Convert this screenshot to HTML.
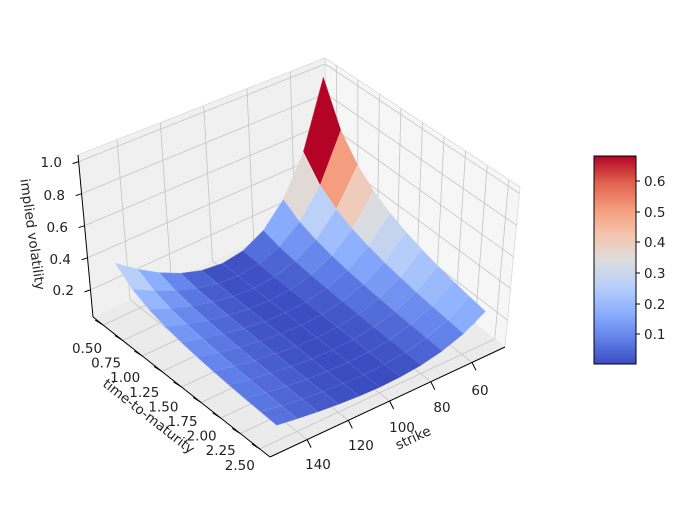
<!DOCTYPE html>
<html><head><meta charset="utf-8">
<style>
html,body{margin:0;padding:0;background:#fff;}
svg{display:block;font-family:"DejaVu Sans","Liberation Sans",sans-serif;}
</style></head>
<body>
<svg id="s" width="694" height="507" viewBox="0 0 694 507" xmlns="http://www.w3.org/2000/svg">
<rect width="694" height="507" fill="#fff"/>
<g id="g"></g>
<defs>
<linearGradient id="cb" x1="0" y1="1" x2="0" y2="0">
<stop offset="0" stop-color="rgb(59,76,192)"/>
<stop offset="0.125" stop-color="rgb(98,130,234)"/>
<stop offset="0.25" stop-color="rgb(141,176,254)"/>
<stop offset="0.375" stop-color="rgb(184,208,249)"/>
<stop offset="0.5" stop-color="rgb(221,221,221)"/>
<stop offset="0.625" stop-color="rgb(245,196,173)"/>
<stop offset="0.75" stop-color="rgb(244,154,123)"/>
<stop offset="0.875" stop-color="rgb(222,96,76)"/>
<stop offset="1" stop-color="rgb(180,4,38)"/>
</linearGradient>
</defs>
<rect x="594" y="156" width="42" height="208" fill="url(#cb)" stroke="#000" stroke-width="1"/>
<g font-size="13.5" fill="#222">
<line x1="636" y1="181" x2="640" y2="181" stroke="#000"/><text x="644" y="186">0.6</text>
<line x1="636" y1="212" x2="640" y2="212" stroke="#000"/><text x="644" y="217">0.5</text>
<line x1="636" y1="242" x2="640" y2="242" stroke="#000"/><text x="644" y="247">0.4</text>
<line x1="636" y1="273" x2="640" y2="273" stroke="#000"/><text x="644" y="278">0.3</text>
<line x1="636" y1="304" x2="640" y2="304" stroke="#000"/><text x="644" y="309">0.2</text>
<line x1="636" y1="334" x2="640" y2="334" stroke="#000"/><text x="644" y="339">0.1</text>
</g>
</svg>
<script>
(function(){
var A=[93,317],F=[270,457],R=[505,347],B=[328,207];
var At=[78,155],Rt=[520,187],Bt=[325,58],Ft=[At[0]+Rt[0]-Bt[0],At[1]+Rt[1]-Bt[1]];
function bil(p00,p10,p01,p11,u,v){return [p00[0]*(1-u)*(1-v)+p10[0]*u*(1-v)+p01[0]*(1-u)*v+p11[0]*u*v,
 p00[1]*(1-u)*(1-v)+p10[1]*u*(1-v)+p01[1]*(1-u)*v+p11[1]*u*v];}
function P(u,v,w){var b=bil(A,B,F,R,u,v),t=bil(At,Bt,Ft,Rt,u,v);return [b[0]*(1-w)+t[0]*w,b[1]*(1-w)+t[1]*w];}
function uK(K){return (158-K)/114;}
function vT(T){return (T-0.37)/2.26;}
function wZ(z){return (z-0.031)/1.01;}
var out=[];
function poly(pts,fill,stroke,sw){out.push('<polygon points="'+pts.map(function(p){return p[0].toFixed(1)+','+p[1].toFixed(1);}).join(' ')+'" fill="'+fill+'" stroke="'+(stroke||'none')+'" stroke-width="'+(sw||0)+'"/>');}
function line(p,q,c,w){out.push('<line x1="'+p[0].toFixed(1)+'" y1="'+p[1].toFixed(1)+'" x2="'+q[0].toFixed(1)+'" y2="'+q[1].toFixed(1)+'" stroke="'+c+'" stroke-width="'+w+'"/>');}
poly([A,B,Bt,At],'#f0f0f0');
poly([B,R,Rt,Bt],'#f6f6f6');
poly([A,B,R,F],'#ebebeb');
var gc='#c4c4c4',gw=0.8;
var Ks=[60,80,100,120,140],Ts=[0.5,0.75,1,1.25,1.5,1.75,2,2.25,2.5],Zs=[0.2,0.4,0.6,0.8,1.0];
Ks.forEach(function(K){var u=uK(K);line(P(u,0,0),P(u,0,1),gc,gw);line(P(u,0,0),P(u,1,0),gc,gw);});
Ts.forEach(function(T){var v=vT(T);line(P(1,v,0),P(1,v,1),gc,gw);line(P(0,v,0),P(1,v,0),gc,gw);});
Zs.forEach(function(z){var w=wZ(z);line(P(0,0,w),P(1,0,w),gc,gw);line(P(1,0,w),P(1,1,w),gc,gw);});
line(At,Bt,'#d8d8d8',0.8);line(Bt,Rt,'#d8d8d8',0.8);line(B,Bt,'#d8d8d8',0.8);line(Rt,R,'#d8d8d8',0.8);
var cm=[[59,76,192],[98,130,234],[141,176,254],[184,208,249],[221,221,221],[245,196,173],[244,154,123],[222,96,76],[180,4,38]];
function col(t){t=Math.max(0,Math.min(1,t));var s=t*8,i=Math.min(7,Math.floor(s)),f=s-i;var a=cm[i],b=cm[i+1];
 return 'rgb('+Math.round(a[0]+(b[0]-a[0])*f)+','+Math.round(a[1]+(b[1]-a[1])*f)+','+Math.round(a[2]+(b[2]-a[2])*f)+')';}
function Z(K,T){var l=Math.log(K/100);return 0.705*l*l/T+0.005;}
function sw(z){return 0.03+1.25*z+0.15*z*z;}
var NK=10,NT=10,facets=[],mn=1e9,mx=-1e9;
for(var i=0;i<NK;i++)for(var j=0;j<NT;j++){
 var K0=50+100*i/NK,K1=50+100*(i+1)/NK,T0=0.5+2*j/NT,T1=0.5+2*(j+1)/NT;
 var c=[[K0,T0],[K1,T0],[K1,T1],[K0,T1]];
 var zs=c.map(function(q){return Z(q[0],q[1]);});
 var zavg=(zs[0]+zs[1]+zs[2]+zs[3])/4;
 mn=Math.min(mn,zavg);mx=Math.max(mx,zavg);
 var pts=c.map(function(q,k){return P(uK(q[0]),vT(q[1]),sw(zs[k]));});
 var um=uK((K0+K1)/2),vm=vT((T0+T1)/2);
 facets.push({d:um-vm,pts:pts,z:zavg});
}
facets.forEach(function(f){f.c=col((f.z-mn)/(mx-mn));});
facets.sort(function(a,b){return b.d-a.d;});
facets.forEach(function(f){poly(f.pts,f.c,f.c,0.6);});
facets.forEach(function(f){out.push('<polyline points="'+[f.pts[0],f.pts[1],f.pts[2]].map(function(p){return p[0].toFixed(1)+','+p[1].toFixed(1);}).join(' ')+'" fill="none" stroke="rgba(255,255,255,0.18)" stroke-width="0.6"/>');});
line(A,F,'#000',1);line(F,R,'#000',1);line(A,At,'#000',1);
Ks.forEach(function(K){var p=P(uK(K),1,0);line(p,[p[0]+4,p[1]+8],'#000',1);});
Ts.forEach(function(T){var p=P(0,vT(T),0);line(p,[p[0]-8,p[1]-5],'#000',1);});
Zs.forEach(function(z){var p=P(0,0,wZ(z));line(p,[p[0]-6,p[1]+2],'#000',1);});
var tx='';
var kl=[[60,480,390],[80,442,407],[100,402,427],[120,361,445],[140,318,464]];
kl.forEach(function(k){tx+='<text x="'+k[1]+'" y="'+(k[2]+5)+'" text-anchor="middle">'+k[0]+'</text>';});
var tl=['0.50','0.75','1.00','1.25','1.50','1.75','2.00','2.25','2.50'];
tl.forEach(function(s,i){tx+='<text x="'+(87+19.1*i).toFixed(1)+'" y="'+(353+14.6*i).toFixed(1)+'" text-anchor="middle">'+s+'</text>';});
var zl=[['1.0',62,167],['0.8',65,200],['0.6',68,232],['0.4',71,264],['0.2',74,295]];
zl.forEach(function(z){tx+='<text x="'+z[1]+'" y="'+z[2]+'" text-anchor="end">'+z[0]+'</text>';});
tx+='<text transform="translate(28,235) rotate(82)" text-anchor="middle">implied volatility</text>';
tx+='<text transform="translate(146,420) rotate(38)" text-anchor="middle">time-to-maturity</text>';
tx+='<text transform="translate(415,442) rotate(-25)" text-anchor="middle">strike</text>';
out.push('<g font-size="13.5" fill="#222">'+tx+'</g>');
document.getElementById('g').innerHTML=out.join('');
})();
</script>
</body></html>
